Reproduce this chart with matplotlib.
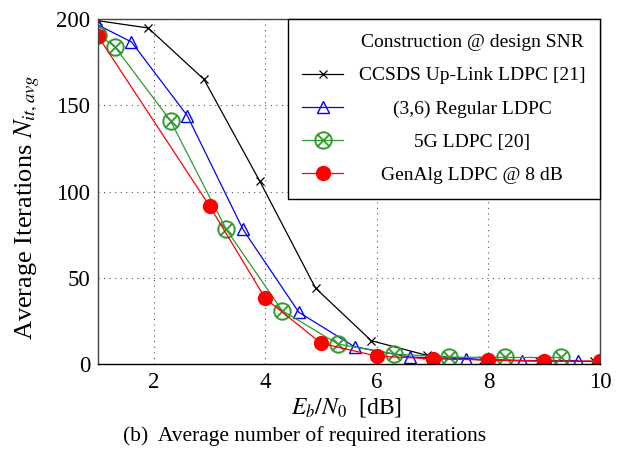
import matplotlib
matplotlib.use("Agg")
from matplotlib import pyplot as plt

plt.rcParams["font.family"] = ["Liberation Serif", "DejaVu Serif"]
plt.rcParams["mathtext.fontset"] = "stix"

# Eb/N0 [dB] and average number of iterations
snr_ccsds = [1.0, 1.9, 2.9, 3.9, 4.9, 5.9, 6.9, 7.9, 8.9, 9.9]
it_ccsds  = [199, 194.8, 165, 106, 44, 13.5, 5, 2.3, 1.8, 1.5]

snr_reg = [1.0, 1.6, 2.6, 3.6, 4.6, 5.6, 6.6, 7.6, 8.6, 9.6]
it_reg  = [196.5, 186.7, 144, 78, 30, 10, 4, 3, 2, 2]

snr_5g = [1.0, 1.3, 2.3, 3.3, 4.3, 5.3, 6.3, 7.3, 8.3, 9.3]
it_5g  = [191, 184, 141, 78, 31, 11.6, 5.8, 4, 3.8, 3.8]

snr_ga = [1, 3, 4, 5, 6, 7, 8, 9, 10]
it_ga  = [190, 91.6, 38, 12, 4.6, 3, 2.3, 1.7, 1.7]

legend_head = "Construction @ design SNR"
labels = ["CCSDS Up-Link LDPC [21]", "(3,6) Regular LDPC",
          "5G LDPC [20]", "GenAlg LDPC @ 8 dB"]

fig = plt.figure(figsize=(6.22, 4.58), dpi=100)
ax = fig.add_axes([0.1576, 0.2052, 0.807, 0.7533])

ax.plot([], [], ls="none", label=legend_head)
ax.plot(snr_ccsds, it_ccsds, color="black", lw=0.9, marker="x", ms=6,
        mew=0.9, label=labels[0])
ax.plot(snr_reg, it_reg, color="blue", lw=0.9, marker="^", ms=8,
        mfc="none", mew=1.0, label=labels[1])
ax.plot(snr_5g, it_5g, color="#2e9a2e", lw=0.9, marker=r"$\otimes$", ms=13,
        mew=0.2, label=labels[2])
ax.plot(snr_ga, it_ga, color="red", lw=0.9, marker="o", ms=10,
        label=labels[3])

ax.set_xlim(1, 10)
ax.set_ylim(0, 200)
ax.set_xticks([2, 4, 6, 8, 10])
ax.set_yticks([0, 50, 100, 150, 200])
ax.tick_params(length=0, pad=5.5, labelsize=16.5)
ax.grid(True, ls=(0, (1, 4)), color="#555555", lw=0.8)
for s in ax.spines.values():
    s.set_color("#444444")
    s.set_linewidth(1.0)
ax.spines["bottom"].set_color("black")

ax.set_xlabel(r"$E_b/N_0$  [dB]", fontsize=17)
ax.xaxis.set_label_coords(0.494, -0.093)
ax.set_ylabel(r"Average Iterations $N_{it,avg}$", fontsize=19)
ax.yaxis.set_label_coords(-0.112, 0.455)
fig.text(123 / 622, 0.048, "(b)  Average number of required iterations",
         ha="left", va="center", fontsize=15.5)

leg = ax.legend(loc="upper right", borderaxespad=0, fancybox=False,
                framealpha=1, edgecolor="black", fontsize=14,
                handlelength=2.1, handletextpad=0.8, borderpad=0.75,
                labelspacing=0.8)
leg.get_frame().set_linewidth(1.0)

# center the legend labels over the text column, as in the original
fig.canvas.draw()
texts = leg.get_texts()
boxes = [t.get_window_extent() for t in texts]
cx = (min(b.x0 for b in boxes) + max(b.x1 for b in boxes)) / 2
for t, b in zip(texts, boxes):
    t.set_x(cx - (b.x0 + b.x1) / 2)

fig.savefig("out.png", dpi=100)
